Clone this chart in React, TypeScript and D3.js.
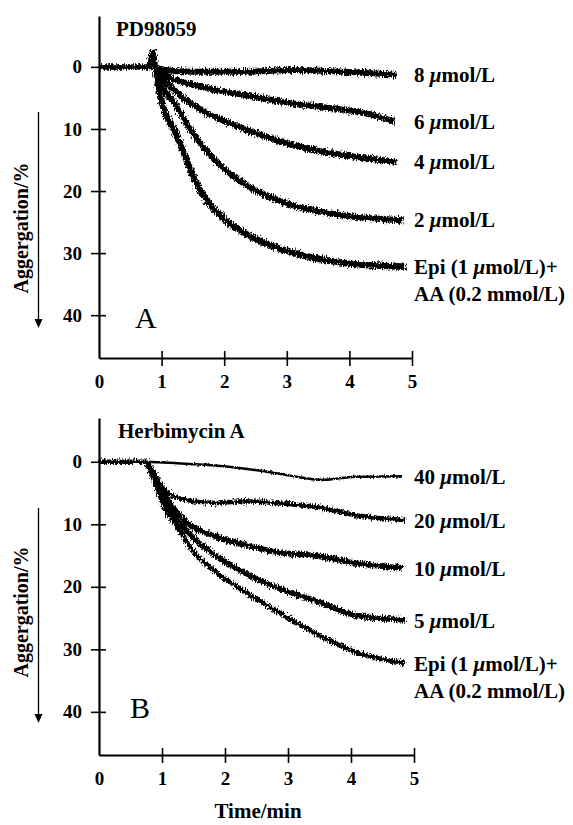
import { useEffect, useRef } from 'react';
import * as d3 from 'd3';

type Pt = [number, number];

const timeTicks = [0, 1, 2, 3, 4, 5];
const aggTicks = [0, 10, 20, 30, 40];

// Panel A: PD98059 (time in min, aggregation in %)
const baselineA: Pt[] = [[0, 0], [0.3, 0], [0.6, 0], [0.8, 0], [0.86, -2.5], [0.9, 0]];
const pd8: Pt[] = [[0.9, 0], [1, 0.4], [1.5, 0.8], [2.3, 0.8], [3.1, 0.5], [3.9, 0.8], [4.75, 1.3]];
const pd6: Pt[] = [[0.9, 0], [1.1, 1.5], [1.5, 2.9], [2.3, 4.5], [3.1, 5.9], [3.9, 6.9], [4.4, 7.8], [4.72, 8.8]];
const pd4: Pt[] = [[0.9, 0], [1, 1.5], [1.2, 3.7], [1.5, 6.1], [2.3, 9.9], [3.1, 12.6], [3.9, 14.2], [4.75, 15.3]];
const pd2: Pt[] = [[0.9, 0], [1, 2.8], [1.2, 5.8], [1.5, 10.7], [1.9, 15.5], [2.3, 18.7], [3.1, 22.3], [3.9, 23.9], [4.85, 24.7]];
const pdEpi: Pt[] = [[0.9, 0], [1, 5.5], [1.2, 10.2], [1.37, 14.2], [1.53, 18.2], [1.93, 23.9], [2.33, 26.8], [3.13, 30], [3.93, 31.6], [4.9, 32.2]];
const dosesA = ['8', '6', '4', '2'];

// Panel B: Herbimycin A
const baselineB: Pt[] = [[0, 0], [0.25, 0], [0.5, 0], [0.75, 0]];
const hb40: Pt[] = [[0.75, 0], [1.2, 0.2], [1.84, 0.6], [2.32, 1.1], [2.79, 1.8], [3.2, 2.5], [3.54, 2.9], [4.06, 2.4], [4.81, 2.3]];
const hb20: Pt[] = [[0.75, 0], [0.89, 2.3], [1.05, 4.5], [1.37, 6.1], [1.84, 6.6], [2.32, 6.3], [2.79, 6.6], [3.54, 7.4], [4.06, 8.5], [4.86, 9.3]];
const hb10: Pt[] = [[0.75, 0], [0.9, 2.5], [1.05, 5.5], [1.37, 9.5], [1.84, 11.9], [2.32, 13.3], [2.79, 14.4], [3.54, 15.2], [4.06, 16.2], [4.81, 17]];
const hb5: Pt[] = [[0.75, 0], [0.9, 2.8], [1.05, 6.5], [1.37, 10.9], [1.84, 14.9], [2.32, 17.8], [2.79, 20], [3.54, 22.6], [4.06, 24.5], [4.86, 25.3]];
const hbEpi: Pt[] = [[0.75, 0], [0.89, 3.4], [1.05, 7.5], [1.2, 9.8], [1.52, 14.6], [1.84, 17.5], [2.32, 20.8], [2.79, 23.7], [3.54, 28], [4.06, 30.4], [4.86, 32.2]];
const dosesB = ['40', '20', '10', '5'];

const SERIF = '"Liberation Serif", "Times New Roman", serif';

interface Trace {
    data: Pt[];
    dose: string | null; // null = agonist only (Epi + AA)
    width: number;
    filter: string;
}

interface PanelOpts {
    x: d3.ScaleLinear<number, number>;
    y: d3.ScaleLinear<number, number>;
    baseline: Pt[];
    baseWidth: number;
    traces: Trace[];
    title: string;
    titleX: number;
    titleY: number;
    letter: string;
    letterX: number;
    letterY: number;
    arrow: [number, number];
    labelY: number;
    labelDy: number;
}

function drawPanel(svg: d3.Selection<SVGSVGElement, unknown, null, undefined>, o: PanelOpts) {
    const { x, y } = o;
    const yBottom = y.range()[1];
    const x0 = x.range()[0];
    const g = svg.append('g');

    // traces
    const line = d3.line<Pt>()
        .x(d => x(d[0]))
        .y(d => y(d[1]))
        .curve(d3.curveMonotoneX);

    g.append('path')
        .datum(o.baseline)
        .attr('fill', 'none')
        .attr('stroke', '#000')
        .attr('stroke-width', o.baseWidth)
        .attr('filter', 'url(#rough)')
        .attr('d', line);

    o.traces.forEach(t => {
        g.append('path')
            .datum(t.data)
            .attr('fill', 'none')
            .attr('stroke', '#000')
            .attr('stroke-width', t.width)
            .attr('stroke-linejoin', 'round')
            .attr('filter', `url(#${t.filter})`)
            .attr('d', line);
    });

    // x axis
    const gx = g.append('g')
        .attr('transform', `translate(0,${yBottom})`)
        .call(d3.axisBottom(x).tickValues(timeTicks).tickSize(8).tickSizeOuter(0).tickPadding(9).tickFormat(d3.format('d')))
        .attr('font-family', SERIF)
        .attr('font-size', 19)
        .attr('font-weight', 'bold');
    gx.select('.domain').attr('stroke-width', 2.2);
    gx.selectAll('.tick line').attr('y1', -7).attr('stroke-width', 1.6);
    gx.selectAll('.tick').filter(d => d === 0).select('line').remove();

    // y axis
    const gy = g.append('g')
        .attr('transform', `translate(${x0},0)`)
        .call(d3.axisLeft(y).tickValues(aggTicks).tickSize(8).tickSizeOuter(0).tickPadding(9).tickFormat(d3.format('d')))
        .attr('font-family', SERIF)
        .attr('font-size', 19)
        .attr('font-weight', 'bold');
    gy.select('.domain').attr('stroke-width', 2.2);
    gy.selectAll('.tick line').attr('x1', 7).attr('stroke-width', 1.6);

    // y label and arrow
    g.append('text')
        .attr('transform', `translate(28,${o.labelY}) rotate(-90)`)
        .attr('text-anchor', 'middle')
        .attr('font-family', SERIF)
        .attr('font-weight', 'bold')
        .attr('font-size', 20)
        .text('Aggergation/%');
    g.append('line')
        .attr('x1', 38.5).attr('x2', 38.5)
        .attr('y1', o.arrow[0]).attr('y2', o.arrow[1] - 6)
        .attr('stroke', '#000').attr('stroke-width', 1.3);
    g.append('path')
        .attr('d', `M34.5,${o.arrow[1] - 9}L42.5,${o.arrow[1] - 9}L38.5,${o.arrow[1]}Z`)
        .attr('fill', '#000');

    // title and panel letter
    g.append('text')
        .attr('x', o.titleX).attr('y', o.titleY)
        .attr('font-family', SERIF).attr('font-weight', 'bold').attr('font-size', 21)
        .text(o.title);
    g.append('text')
        .attr('x', o.letterX).attr('y', o.letterY)
        .attr('font-family', SERIF).attr('font-size', 30)
        .text(o.letter);

    // right-hand trace labels
    o.traces.forEach(t => {
        const last = t.data[t.data.length - 1];
        const ty = y(last[1]) + o.labelDy;
        const txt = g.append('text')
            .attr('x', 414).attr('y', ty)
            .attr('font-family', SERIF).attr('font-weight', 'bold').attr('font-size', 21);
        if (t.dose !== null) {
            txt.append('tspan').text(`${t.dose} `);
            txt.append('tspan').attr('font-style', 'italic').text('\u03bc');
            txt.append('tspan').text('mol/L');
        } else {
            txt.append('tspan').text('Epi (1 ');
            txt.append('tspan').attr('font-style', 'italic').text('\u03bc');
            txt.append('tspan').text('mol/L)+');
            g.append('text')
                .attr('x', 414).attr('y', ty + 27)
                .attr('font-family', SERIF).attr('font-weight', 'bold').attr('font-size', 21)
                .text('AA (0.2 mmol/L)');
        }
    });
}

function addRoughFilter(defs: d3.Selection<SVGDefsElement, unknown, null, undefined>, id: string, scale: number) {
    const f = defs.append('filter')
        .attr('id', id)
        .attr('filterUnits', 'userSpaceOnUse')
        .attr('x', 0).attr('y', 0).attr('width', 573).attr('height', 825);
    f.append('feTurbulence')
        .attr('type', 'fractalNoise')
        .attr('baseFrequency', '0.9 0.35')
        .attr('numOctaves', 2)
        .attr('seed', 4)
        .attr('result', 'noise');
    f.append('feDisplacementMap')
        .attr('in', 'SourceGraphic')
        .attr('in2', 'noise')
        .attr('scale', scale)
        .attr('xChannelSelector', 'R')
        .attr('yChannelSelector', 'G');
}

export default function App() {
    const ref = useRef<SVGSVGElement>(null);

    useEffect(() => {
        if (!ref.current) return;
        const svg = d3.select(ref.current);
        svg.selectAll('*').remove();

        const defs = svg.append('defs');
        addRoughFilter(defs, 'rough', 7);
        addRoughFilter(defs, 'rough-thin', 3);

        const xA = d3.scaleLinear().domain([0, 5]).range([99, 412]);
        const yA = d3.scaleLinear().domain([-8.2, 46.9]).range([16, 358]);
        const seriesA = [pd8, pd6, pd4, pd2];

        drawPanel(svg, {
            x: xA,
            y: yA,
            baseline: baselineA,
            baseWidth: 5.5,
            traces: [
                ...seriesA.map((d, i) => ({ data: d, dose: dosesA[i], width: 6, filter: 'rough' })),
                { data: pdEpi, dose: null, width: 6.5, filter: 'rough' },
            ],
            title: 'PD98059',
            titleX: 116,
            titleY: 36,
            letter: 'A',
            letterX: 135,
            letterY: 328,
            arrow: [112, 328],
            labelY: 228,
            labelDy: 7,
        });

        const xB = d3.scaleLinear().domain([0, 5]).range([99, 414]);
        const yB = d3.scaleLinear().domain([-7, 46.9]).range([418, 755]);
        const seriesB = [hb40, hb20, hb10, hb5];
        const widthsB = [2.5, 4.5, 5.5, 5.5];

        drawPanel(svg, {
            x: xB,
            y: yB,
            baseline: baselineB,
            baseWidth: 4.5,
            traces: [
                ...seriesB.map((d, i) => ({ data: d, dose: dosesB[i], width: widthsB[i], filter: i === 0 ? 'rough-thin' : 'rough' })),
                { data: hbEpi, dose: null, width: 4.5, filter: 'rough' },
            ],
            title: 'Herbimycin A',
            titleX: 118,
            titleY: 438,
            letter: 'B',
            letterX: 130,
            letterY: 718,
            arrow: [508, 723],
            labelY: 612,
            labelDy: 8,
        });

        svg.append('text')
            .attr('x', 258).attr('y', 818)
            .attr('text-anchor', 'middle')
            .attr('font-family', SERIF).attr('font-weight', 'bold').attr('font-size', 21)
            .text('Time/min');
    }, []);

    return (
        <svg
            ref={ref}
            width={573}
            height={825}
            style={{ position: 'absolute', left: 0, top: 0, background: '#fff' }}
        />
    );
}
